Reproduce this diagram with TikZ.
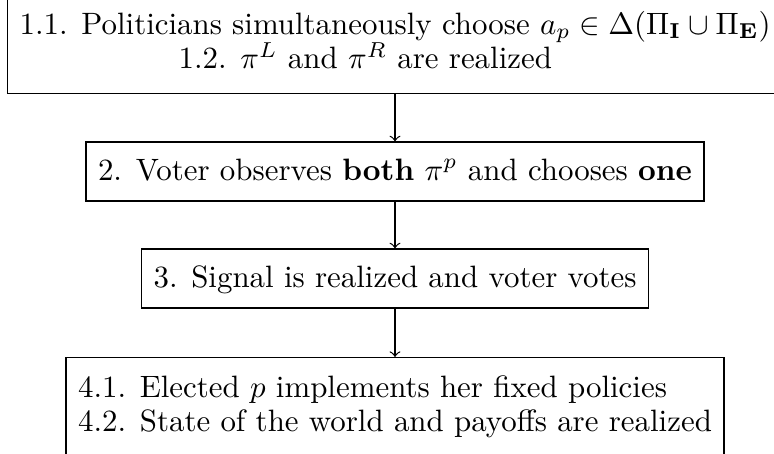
\documentclass[tikz,border=0pt]{standalone}
\newlength\Lw
\newlength\unitpx
\newcommand\lineone{1.1. Politicians simultaneously choose $a_p\in\Delta(\Pi_{\mathbf{I}}\cup\Pi_{\mathbf{E}})$}
\begin{document}
\settowidth\Lw{\lineone}%
\setlength\unitpx{\dimexpr\Lw/751\relax}%
\begin{tikzpicture}[x=\unitpx,y=-\unitpx,
  box/.style={draw, line width=0.4pt, inner xsep=12\unitpx},
  onebox/.style={box, inner ysep=0pt, minimum height=59\unitpx, text height=7.5pt, text depth=2pt},
  flow/.style={->, line width=0.4pt}]
\useasboundingbox (0,0) rectangle (774,454);
\clip (0,0) rectangle (774,454);
\node[box, anchor=south west, inner ysep=14\unitpx, text height=40pt] (top) at (7,94)
  {\begin{tabular}[b]{@{}l@{}}\lineone\\[\dimexpr 34\unitpx-12pt\relax]\hspace*{159\unitpx}1.2. $\pi^L$ and $\pi^R$ are realized\end{tabular}};
\node[onebox] (b2) at (395,171.5) {2. Voter observes \textbf{both} $\pi^p$ and chooses \textbf{one}};
\node[onebox] (b3) at (395,278.5) {3. Signal is realized and voter votes};
\node[box, anchor=north, inner ysep=14\unitpx] (b4) at (395,357)
  {\begin{tabular}[t]{@{}l@{}}4.1. Elected $p$ implements her fixed policies\\[\dimexpr 34\unitpx-12pt\relax]4.2. State of the world and payoffs are realized\end{tabular}};
\draw[flow] (b2.north |- top.south) -- (b2.north);
\draw[flow] (b2.south) -- (b3.north);
\draw[flow] (b3.south) -- (b4.north);
\end{tikzpicture}
\end{document}
